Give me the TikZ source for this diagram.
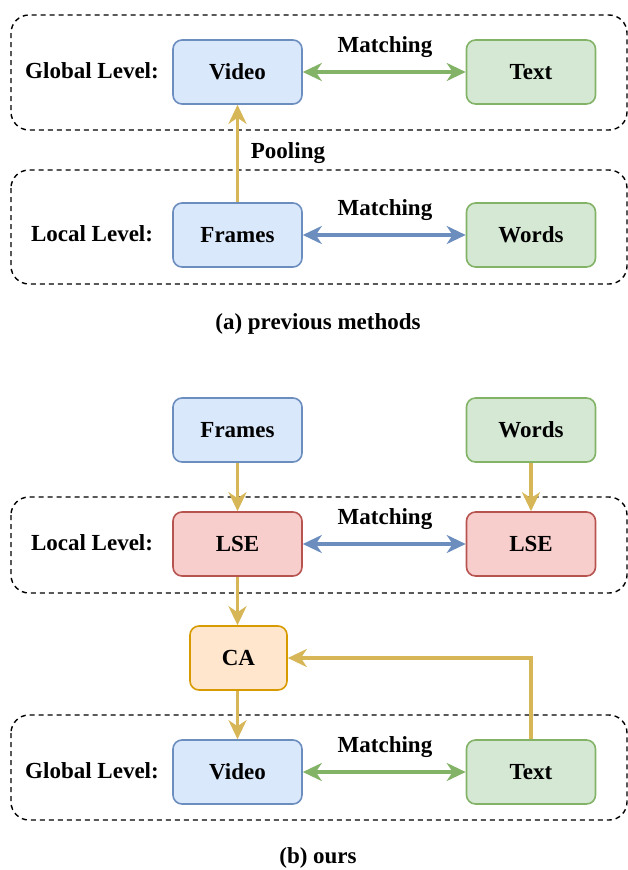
\documentclass[tikz,border=0pt]{standalone}
\usepackage{fontspec}
\setmainfont{Liberation Serif}
\usetikzlibrary{arrows.meta}

\definecolor{blueFill}{HTML}{DAE8FC}
\definecolor{blueLine}{HTML}{6C8EBF}
\definecolor{greenFill}{HTML}{D5E8D4}
\definecolor{greenLine}{HTML}{82B366}
\definecolor{redFill}{HTML}{F8CECC}
\definecolor{redLine}{HTML}{B85450}
\definecolor{orangeFill}{HTML}{FFE6CC}
\definecolor{orangeLine}{HTML}{D79B00}
\definecolor{goldLine}{HTML}{D6B656}

\tikzset{
  lbl/.style={font=\fontsize{23}{27}\selectfont\bfseries, text=black, inner sep=0pt},
  block/.style={lbl, rounded corners=9pt, line width=1.6pt, minimum width=129pt, minimum height=64pt},
  bluebox/.style={block, draw=blueLine, fill=blueFill},
  greenbox/.style={block, draw=greenLine, fill=greenFill},
  redbox/.style={block, draw=redLine, fill=redFill},
  orangebox/.style={block, draw=orangeLine, fill=orangeFill, minimum width=97pt},
  levelframe/.style={draw=black, line width=1.4pt, dash pattern=on 5pt off 4pt, rounded corners=18pt},
  tip/.style={-{Stealth[length=19pt, width=18pt, inset=6pt]}, line width=3.6pt},
  biarrow/.style={{Stealth[length=19pt, width=18pt, inset=6pt]}-{Stealth[length=19pt, width=18pt, inset=6pt]}, line width=3.6pt},
}

\begin{document}
\begin{tikzpicture}[x=1pt, y=-1pt]
  \useasboundingbox (0,0) rectangle (628,870);

  % ---------- (a) previous methods ----------
  \draw[levelframe] (11,15) rectangle (627,130);
  \draw[levelframe] (11,170) rectangle (627,284);

  \node[lbl] (glA) at (92,71) {Global Level:};
  \node[lbl] (llA) at (92,234) {Local Level:};

  \node[bluebox]  (videoA)  at (237.5,72)  {Video};
  \node[greenbox] (textA)   at (531,72)    {Text};
  \node[bluebox]  (framesA) at (237.5,235) {Frames};
  \node[greenbox] (wordsA)  at (531,235)   {Words};

  \draw[biarrow, greenLine] (videoA) -- (textA);
  \node[lbl] (matchA1) at (385,47) {Matching};
  \draw[biarrow, blueLine] (framesA) -- (wordsA);
  \node[lbl] (matchA2) at (385,210) {Matching};

  \draw[tip, goldLine] (framesA) -- (videoA);
  \node[lbl] (pool) at (288,153) {Pooling};

  \node[lbl] (capA) at (318,324) {(a) previous methods};

  % ---------- (b) ours ----------
  \draw[levelframe] (11,497) rectangle (627,593);
  \draw[levelframe] (11,715) rectangle (627,820);

  \node[bluebox]  (framesB) at (237.5,430) {Frames};
  \node[greenbox] (wordsB)  at (531,430)   {Words};

  \node[lbl] (llB) at (92,543) {Local Level:};
  \node[redbox] (lseV) at (237.5,544) {LSE};
  \node[redbox] (lseT) at (531,544)   {LSE};

  \node[orangebox] (ca) at (238.5,658) {CA};

  \node[lbl] (glB) at (92,771) {Global Level:};
  \node[bluebox]  (videoB) at (237.5,772) {Video};
  \node[greenbox] (textB)  at (531,772)   {Text};

  \draw[tip, goldLine] (framesB) -- (lseV);
  \draw[tip, goldLine] (wordsB) -- (lseT);
  \draw[biarrow, blueLine] (lseV) -- (lseT);
  \node[lbl] (matchB1) at (385,519) {Matching};

  \draw[tip, goldLine] (lseV.south) -- (lseV.south |- ca.north);
  \draw[tip, goldLine] (textB.north) |- (ca.east);
  \draw[tip, goldLine] (ca.south -| videoB.north) -- (videoB.north);

  \draw[biarrow, greenLine] (videoB) -- (textB);
  \node[lbl] (matchB2) at (385,747) {Matching};

  \node[lbl] (capB) at (318,858) {(b) ours};
\end{tikzpicture}
\end{document}
